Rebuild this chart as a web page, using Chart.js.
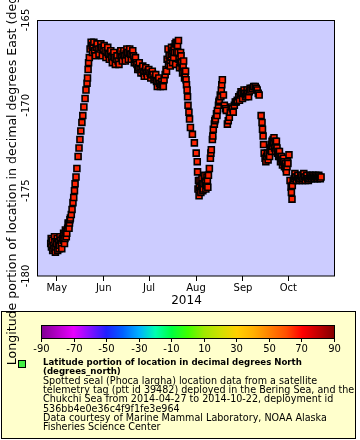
<!DOCTYPE html>
<html>
<head>
<meta charset="utf-8">
<script src="https://cdn.jsdelivr.net/npm/chart.js@4/dist/chart.umd.min.js"></script>
<style>
  html, body { margin: 0; padding: 0; background: #fff; }
</style>
</head>
<body>
<canvas id="chart_seal" width="360" height="440"></canvas>
<script>
// day of year 2014 (1 = Jan 1), fractional
const obsDay = [
  117.0, 117.5, 118.0, 118.6, 119.2, 119.8, 120.4, 121.0, 121.6, 122.2,
  122.8, 123.4, 124.0, 124.6, 125.2, 125.8, 126.4, 127.0, 127.6, 128.2,
  128.8, 129.4, 130.0, 130.6, 131.1, 131.7, 132.2, 132.7, 133.1, 133.7,
  134.3, 135.1, 135.7, 136.3, 136.9, 137.6, 138.2, 138.9, 139.7, 140.3,
  141.0, 141.3, 141.7, 142.0, 142.5, 143.0, 143.7, 144.3, 145.0, 146.0,
  147.0, 148.3, 149.6, 150.6, 151.6, 152.9, 154.2, 155.2, 156.2, 157.2,
  158.2, 159.2, 160.2, 161.5, 162.8, 163.8, 164.8, 165.8, 166.8, 167.8,
  168.8, 169.7, 170.7, 171.7, 172.7, 173.4, 174.0, 175.0, 176.0, 177.3,
  178.3, 179.3, 180.3, 181.3, 182.6, 183.6, 184.6, 185.9, 186.9, 187.9,
  188.9, 189.9, 190.9, 191.9, 192.6, 193.2, 193.9, 194.5, 195.2, 195.8,
  196.5, 197.1, 197.8, 198.5, 199.2, 199.8, 200.5, 201.1, 201.8, 202.5,
  203.1, 203.8, 204.5, 205.1, 205.8, 206.4, 207.1, 207.4, 207.7, 208.3,
  208.7, 209.3, 210.6, 211.9, 213.1, 213.8, 214.0, 214.6, 215.2, 215.9,
  216.5, 217.2, 217.8, 218.5, 219.2, 219.9, 220.5, 221.2, 221.8, 222.5,
  223.1, 223.8, 224.4, 225.1, 225.8, 226.5, 227.1, 227.8, 228.4, 229.0,
  229.7, 230.4, 231.1, 231.7, 232.4, 233.0, 233.7, 234.3, 235.0, 235.6,
  236.3, 237.0, 237.6, 238.3, 238.9, 239.6, 240.2, 241.2, 242.2, 243.2,
  244.2, 245.2, 246.2, 247.2, 248.2, 249.2, 250.1, 251.1, 252.1, 252.8,
  253.4, 254.1, 254.7, 256.0, 256.6, 256.9, 257.3, 257.6, 258.0, 258.6,
  259.6, 260.6, 261.3, 261.9, 262.6, 263.2, 263.9, 264.5, 265.2, 265.8,
  266.5, 267.2, 267.8, 268.5, 269.2, 269.8, 270.5, 271.1, 271.8, 272.4,
  273.1, 273.7, 274.4, 275.1, 275.8, 276.0, 276.4, 276.6, 277.2, 277.8,
  278.8, 279.8, 280.8, 281.7, 282.7, 283.7, 284.7, 285.7, 286.7, 287.7,
  288.7, 289.7, 290.7, 291.7, 292.6, 293.6, 294.6, 295.6,
  // second fixes of the day (the thick parts of the track)
  117.3, 118.3, 119.5, 120.1, 121.3, 122.5, 123.1, 124.3, 125.5, 126.1,
  126.7, 127.3, 128.5, 129.1, 129.7,
  144.6, 145.5, 146.5, 147.6, 148.9, 150.1, 151.1, 152.3, 153.5, 154.7,
  155.7, 156.7, 157.7, 158.7, 159.7, 160.8, 162.1, 163.3, 164.3, 165.3,
  166.3, 167.3, 168.3, 169.2, 170.2, 171.2, 172.2, 173.0, 174.5, 175.5,
  176.6, 177.8, 178.8, 179.8, 180.8, 181.8, 183.1, 184.1, 185.2, 186.4,
  187.4, 188.4, 189.4, 190.4, 191.4,
  193.5, 194.8, 196.0, 196.8, 197.5, 198.2, 198.8, 199.5, 200.1, 200.8,
  201.4, 202.1, 202.8, 203.4, 204.1, 204.8, 205.4, 206.1, 206.7,
  214.3, 215.0, 215.6, 216.2, 216.9, 217.5, 218.2, 218.8, 219.5, 220.2,
  220.8,
  222.8, 224.1, 225.4, 226.8, 228.1, 229.4, 230.0,
  241.7, 242.7, 243.7, 244.7, 245.7, 246.7, 247.7, 248.7,
  259.1, 260.1, 261.6, 262.3, 262.9, 263.6, 264.2, 264.8, 265.5, 266.1,
  266.8, 267.5, 268.1, 268.8, 269.5, 270.1, 270.8, 271.4, 272.1, 272.7,
  273.4,
  278.3, 279.3, 280.3, 281.2, 282.2, 283.2, 284.2, 285.2, 286.2, 287.2,
  288.2, 289.2, 290.2, 291.2, 292.1, 293.1, 294.1, 295.1
];
// longitude, degrees east
const obsLon = [
  -178.1, -178.3, -177.9, -178.2, -178.4, -178.0, -178.3, -178.1, -178.5, -178.0,
  -178.2, -177.9, -178.1, -177.8, -177.9, -177.6, -177.8, -177.4, -177.5, -177.2,
  -177.0, -176.9, -176.6, -176.4, -176.1, -175.7, -175.4, -175.0, -174.6, -174.2,
  -173.7, -173.0, -172.5, -172.0, -171.5, -171.0, -170.6, -170.1, -169.6, -169.1,
  -168.7, -168.4, -167.9, -167.5, -167.2, -166.7, -166.3, -166.5, -166.6, -166.8,
  -166.6, -166.7, -166.7, -166.6, -166.7, -166.8, -166.9, -167.0, -167.0, -167.2,
  -167.1, -167.2, -167.3, -167.4, -167.1, -167.2, -167.0, -167.1, -167.0, -166.9,
  -166.9, -167.0, -167.0, -167.1, -167.3, -167.5, -167.6, -167.8, -167.9, -167.9,
  -168.1, -168.0, -168.1, -168.0, -168.1, -168.2, -168.2, -168.4, -168.6, -168.6,
  -168.7, -168.8, -168.8, -168.5, -168.2, -167.9, -167.3, -166.7, -167.1, -167.4,
  -167.2, -167.0, -166.8, -166.6, -166.4, -166.3, -166.4, -166.9, -167.3, -167.5,
  -167.1, -167.8, -167.7, -168.0, -168.3, -168.5, -169.1, -169.5, -170.0, -170.4,
  -170.8, -171.3, -171.7, -172.2, -172.8, -173.3, -173.9, -174.4, -174.8, -175.0,
  -174.7, -174.6, -174.9, -174.3, -174.5, -174.7, -174.4, -174.1, -173.7, -173.1,
  -172.6, -172.0, -171.4, -171.1, -170.8, -170.5, -170.3, -170.0, -169.7, -169.4,
  -169.1, -168.5, -169.4, -170.0, -170.2, -170.3, -171.1, -170.9, -170.7, -170.4,
  -170.1, -170.2, -170.4, -170.0, -169.8, -169.8, -169.7, -169.5, -169.4, -169.3,
  -169.3, -169.3, -169.4, -169.3, -169.2, -169.1, -169.0, -168.9, -168.9, -169.0,
  -169.1, -169.3, -169.4, -170.6, -171.0, -171.4, -171.8, -172.3, -172.8, -173.1,
  -173.0, -173.2, -172.9, -172.6, -172.3, -172.1, -172.0, -171.9, -172.1, -172.3,
  -172.5, -172.7, -172.9, -173.0, -173.1, -173.2, -173.3, -173.3, -173.5, -173.7,
  -173.6, -173.4, -172.9, -174.4, -174.8, -175.1, -175.5, -174.7, -174.4, -174.3,
  -174.2, -174.2, -174.3, -174.3, -174.2, -174.3, -174.2, -174.2, -174.3, -174.3,
  -174.2, -174.2, -174.2, -174.2, -174.2, -174.2, -174.2, -174.2,
  // second fixes of the day
  -177.8, -178.5, -177.7, -178.6, -177.8, -178.4, -177.7, -178.4, -177.5, -178.1,
  -177.3, -177.7, -176.9, -177.2, -176.7,
  -166.9, -166.3, -167.1, -166.4, -167.0, -166.4, -167.1, -166.5, -167.2, -166.6,
  -167.3, -166.8, -167.5, -166.9, -167.6, -167.1, -167.6, -166.8, -167.4, -166.8,
  -167.4, -166.7, -167.3, -166.7, -167.3, -166.8, -167.5, -167.2, -167.9, -167.5,
  -168.1, -167.7, -168.3, -167.8, -168.3, -167.9, -168.4, -168.0, -168.5, -168.2,
  -168.9, -168.4, -168.9, -168.6, -168.9,
  -168.0, -167.6, -167.7, -166.6, -167.5, -167.2, -166.9, -167.6, -166.9, -166.5,
  -166.2, -167.8, -166.9, -167.5, -168.1, -167.4, -168.4, -168.0, -168.8,
  -174.9, -175.3, -174.4, -175.1, -174.3, -175.0, -174.6, -174.1, -174.9, -174.2,
  -174.8,
  -172.8, -171.8, -170.9, -170.6, -169.8, -169.5, -168.8,
  -169.7, -169.2, -169.6, -169.1, -169.5, -169.1, -169.5, -169.0,
  -173.3, -172.8, -173.0, -172.5, -172.7, -172.4, -172.2, -172.5, -172.7, -172.1,
  -172.8, -173.0, -172.7, -173.3, -173.0, -173.5, -173.1, -173.6, -173.4, -173.9,
  -173.3,
  -174.0, -174.4, -174.1, -174.4, -174.1, -174.4, -174.0, -174.4, -174.1, -174.4,
  -174.1, -174.3, -174.1, -174.3, -174.1, -174.3, -174.1, -174.3
];

const monthTickDays = [121, 152, 182, 213, 244, 274];
const monthTickLabels = ['May', 'Jun', 'Jul', 'Aug', 'Sep', 'Oct'];
const lonTicks = [-180, -175, -170, -165];
const colorbarTicks = [-90, -70, -50, -30, -10, 10, 30, 50, 70, 90];

const paletteStops = [-90, -70, -50, -40, -30, -20, -10, 0, 10, 20, 30, 40, 50, 60, 70, 80, 90];
const paletteColors = ['#800090', '#e800ff', '#2020ff', '#0060ff', '#00b0ff', '#00ffb0', '#00ff40', '#40ff00',
  '#a0e800', '#d0e000', '#ffd000', '#ffb000', '#ff8000', '#ff5000', '#ff0000', '#c00000', '#800000'];

const legendTitle = ['Latitude portion of location in decimal degrees North', '(degrees_north)'];
const legendLines = [
  'Spotted seal (Phoca largha) location data from a satellite',
  'telemetry tag (ptt id 39482) deployed in the Bering Sea, and the',
  'Chukchi Sea from 2014-04-27 to 2014-10-22, deployment id',
  '536bb4e0e36c4f9f1fe3e964',
  'Data courtesy of Marine Mammal Laboratory, NOAA Alaska',
  'Fisheries Science Center'
];

const yTitle = 'Longitude portion of location in decimal degrees East (degrees_east)';
const FONT = '"DejaVu Sans", sans-serif';

const chartDecor = {
  id: 'chartDecor',
  beforeDraw(chart) {
    const {ctx, chartArea: a} = chart;
    ctx.save();
    ctx.fillStyle = '#ffffff';
    ctx.fillRect(0, 0, chart.width, chart.height);
    ctx.fillStyle = '#ccccff';
    ctx.fillRect(a.left, a.top, a.right - a.left, a.bottom - a.top);

    // legend box
    ctx.fillStyle = '#ffffcc';
    ctx.fillRect(1.5, 311.5, 354, 127);
    ctx.strokeStyle = '#000';
    ctx.lineWidth = 1;
    ctx.strokeRect(1.5, 311.5, 354, 127);

    // colour bar
    const barL = 41, barR = 335, barT = 325, barB = 339;
    const grad = ctx.createLinearGradient(barL, 0, barR, 0);
    paletteStops.forEach((v, i) => grad.addColorStop((v + 90) / 180, paletteColors[i]));
    ctx.fillStyle = grad;
    ctx.fillRect(barL, barT, barR - barL, barB - barT);
    ctx.strokeRect(barL + 0.5, barT + 0.5, barR - barL - 1, barB - barT - 1);
    ctx.fillStyle = '#000';
    ctx.font = '10px ' + FONT;
    ctx.textAlign = 'center';
    ctx.textBaseline = 'middle';
    colorbarTicks.forEach(v => {
      const x = Math.round(barL + (v + 90) / 180 * (barR - barL - 1)) + 0.5;
      ctx.beginPath();
      ctx.moveTo(x, barB);
      ctx.lineTo(x, barB + 3);
      ctx.stroke();
      ctx.fillText(String(v), x, 349);
    });

    // legend marker and text
    ctx.fillStyle = '#44ee44';
    ctx.fillRect(19, 361, 6, 6);
    ctx.strokeRect(18.5, 360.5, 7, 7);
    ctx.fillStyle = '#000';
    ctx.textAlign = 'left';
    ctx.font = 'bold 8.6px ' + FONT;
    let y = 363;
    legendTitle.forEach(t => { ctx.fillText(t, 43, y); y += 9.2; });
    ctx.font = '9.6px ' + FONT;
    legendLines.forEach(t => { ctx.fillText(t, 43, y); y += 9.2; });
    ctx.restore();
  },
  beforeDatasetsDraw(chart) {
    const {ctx, chartArea: a} = chart;
    ctx.save();
    ctx.strokeStyle = '#000';
    ctx.lineWidth = 1;
    ctx.strokeRect(Math.round(a.left) - 0.5, Math.round(a.top) + 0.5,
      Math.round(a.right - a.left), Math.round(a.bottom - a.top) - 0.5);
    ctx.restore();
  },
  afterDraw(chart) {
    const {ctx, chartArea: a} = chart;
    const yScale = chart.scales.y;
    ctx.save();
    ctx.fillStyle = '#000';
    ctx.textAlign = 'center';
    ctx.textBaseline = 'middle';
    ctx.font = '10px ' + FONT;
    lonTicks.forEach(v => {
      ctx.save();
      ctx.translate(26, yScale.getPixelForValue(v));
      ctx.rotate(-Math.PI / 2);
      ctx.fillText(String(v), 0, 0);
      ctx.restore();
    });
    ctx.font = '12.6px ' + FONT;
    ctx.translate(12.5, (a.top + a.bottom) / 2);
    ctx.rotate(-Math.PI / 2);
    ctx.fillText(yTitle, 0, 0);
    ctx.restore();
  }
};

// one point per fix, drawn in time order
const fixes = obsDay.map((d, i) => ({x: d, y: obsLon[i]})).sort((p, q) => p.x - q.x);

new Chart(document.getElementById('chart_seal').getContext('2d'), {
  type: 'scatter',
  data: {
    datasets: [{
      data: fixes,
      pointStyle: 'rect',
      pointRadius: 4.2,
      borderWidth: 1.6,
      borderColor: '#000000',
      backgroundColor: '#ff2200'
    }]
  },
  options: {
    responsive: false,
    animation: false,
    events: [],
    layout: {padding: {left: 0, right: 25, top: 20, bottom: 132}},
    plugins: {legend: {display: false}, tooltip: {enabled: false}},
    scales: {
      x: {
        type: 'linear',
        min: 108.6,
        max: 304.8,
        afterFit(scale) { scale.height = 32; },
        afterBuildTicks(scale) { scale.ticks = monthTickDays.map(v => ({value: v})); },
        border: {display: false},
        grid: {display: true, drawOnChartArea: false, drawTicks: true, tickLength: 5, color: '#000', tickWidth: 1},
        ticks: {
          autoSkip: false, maxRotation: 0, padding: 1,
          color: '#000', font: {family: FONT, size: 10},
          callback: v => monthTickLabels[monthTickDays.indexOf(v)]
        },
        title: {display: true, text: '2014', color: '#000', font: {family: FONT, size: 12}, padding: {top: 0, bottom: 0}}
      },
      y: {
        min: -180,
        max: -165,
        afterFit(scale) { scale.width = 38; },
        afterBuildTicks(scale) { scale.ticks = lonTicks.map(v => ({value: v})); },
        border: {display: false},
        grid: {display: false},
        ticks: {display: false}
      }
    }
  },
  plugins: [chartDecor]
});
</script>
</body>
</html>
